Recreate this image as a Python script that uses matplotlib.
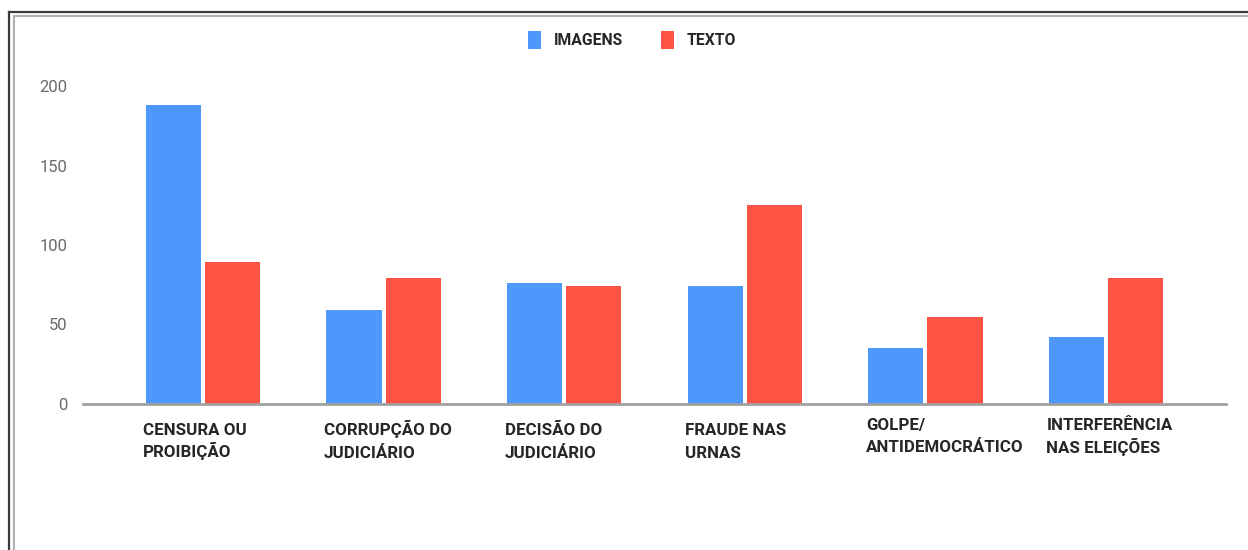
import matplotlib
matplotlib.use("Agg")
import matplotlib.pyplot as plt
from matplotlib.patches import Patch
from matplotlib.lines import Line2D
from matplotlib.transforms import blended_transform_factory
import numpy as np

categories = [
    "CENSURA OU\nPROIBIÇÃO",
    "CORRUPÇÃO DO\nJUDICIÁRIO",
    "DECISÃO DO\nJUDICIÁRIO",
    "FRAUDE NAS\nURNAS",
    "GOLPE/\nANTIDEMOCRÁTICO",
    "INTERFERÊNCIA\nNAS ELEIÇÕES",
]
imagens = [188, 59, 76, 74, 35, 42]
texto = [89, 79, 74, 125, 55, 79]
series_names = ["IMAGENS", "TEXTO"]
yticks = [0, 50, 100, 150, 200]

BLUE = "#4f98fb"
RED = "#fd5345"
LABEL_COLOR = "#262626"

plt.rcParams["font.family"] = ["Roboto", "DejaVu Sans"]

W, H = 1248, 550
fig = plt.figure(figsize=(W / 100, H / 100), dpi=100)


def px_line(x0, y0, x1, y1, color, lw):
    fig.add_artist(Line2D([x0 / W, x1 / W], [1 - y0 / H, 1 - y1 / H],
                          transform=fig.transFigure, color=color, lw=lw))


# double border frame around the chart
px_line(9, 12, 9, 550, "#3a3a3a", 1.6)
px_line(9, 12, 1248, 12, "#3a3a3a", 1.6)
px_line(13.5, 15.5, 13.5, 550, "#b0b0b0", 1.5)
px_line(13.5, 15.5, 1248, 15.5, "#b0b0b0", 1.5)

ax = fig.add_axes([83 / W, (H - 404) / H, (1226 - 83) / W, (404 - 86) / H])

x = np.arange(len(categories))
bw = 0.305
gap = 0.011
ax.bar(x - bw / 2 - gap, imagens, width=bw, color=BLUE, label=series_names[0], zorder=3)
ax.bar(x + bw / 2 + gap, texto, width=bw, color=RED, label=series_names[1], zorder=3)

ax.set_xlim(-0.664, len(categories) - 1 + 0.664)
ax.set_ylim(0, 200)

for s in ["top", "right", "left"]:
    ax.spines[s].set_visible(False)
ax.spines["bottom"].set_color("#a0a0a0")
ax.spines["bottom"].set_linewidth(2)
ax.spines["bottom"].set_zorder(4)

ax.set_yticks(yticks)
ax.set_yticklabels([str(v) for v in yticks], color="#6a6a6a", fontsize=12)
ax.tick_params(axis="y", length=0, pad=11)

# category labels: two lines each, left-aligned under the bar pair
ax.set_xticks([])
trans = blended_transform_factory(ax.transData, fig.transFigure)
first_baseline = [435, 435, 435, 435, 430, 430]
for i, label in enumerate(categories):
    for j, line in enumerate(label.split("\n")):
        base = first_baseline[i] + 22.5 * j
        ax.text(i - 0.33, 1 - base / H, line, transform=trans, ha="left",
                va="baseline", fontsize=12.2, fontweight="bold",
                color=LABEL_COLOR, clip_on=False)

handles = [
    Patch(facecolor=BLUE, edgecolor="none"),
    Patch(facecolor=RED, edgecolor="none"),
]
leg = fig.legend(handles, series_names, loc="center",
                 bbox_to_anchor=(632 / W, 1 - 40 / H),
                 ncol=2, frameon=False, handlelength=0.85, handleheight=1.3,
                 handletextpad=0.8, columnspacing=2.4,
                 prop={"weight": "bold", "size": 11.3})
for t in leg.get_texts():
    t.set_color(LABEL_COLOR)

fig.savefig("out.png", dpi=100, facecolor="white")
